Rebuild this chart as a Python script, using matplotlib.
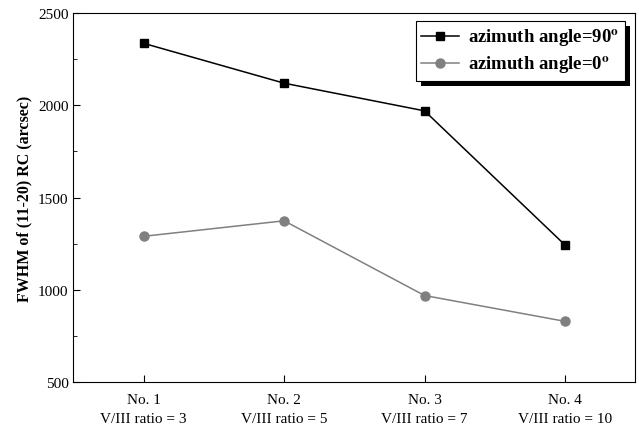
import matplotlib.pyplot as plt
import matplotlib.patches as patches
import numpy as np

plt.rcParams['font.family'] = 'Liberation Serif'
plt.rcParams['mathtext.fontset'] = 'stix'

samples = ['No. 1\nV/III ratio = 3', 'No. 2\nV/III ratio = 5',
           'No. 3\nV/III ratio = 7', 'No. 4\nV/III ratio = 10']
fwhm_90 = [2336, 2120, 1970, 1243]
fwhm_0 = [1290, 1374, 969, 829]

x = np.arange(1, len(samples) + 1)

fig = plt.figure(figsize=(6.39, 4.27), dpi=100)
ax = fig.add_axes([0.115, 0.103, 0.879, 0.864])

ax.plot(x, fwhm_90, color='black', marker='s', markersize=6, lw=1.1,
        label=r'azimuth angle=90$^{\mathbf{o}}$')
ax.plot(x, fwhm_0, color='#808080', marker='o', markersize=6.5, lw=1.1,
        label=r'azimuth angle=0$^{\mathbf{o}}$')

ax.set_xlim(0.5, 4.5)
ax.set_ylim(500, 2500)
ax.set_xticks(x)
ax.set_xticklabels(samples, fontsize=11, linespacing=1.6)
ax.set_yticks([500, 1000, 1500, 2000, 2500])
ax.set_yticks([750, 1250, 1750, 2250], minor=True)
ax.tick_params(axis='both', direction='in', labelsize=11, length=5)
ax.tick_params(axis='x', pad=8)
ax.tick_params(axis='y', which='minor', direction='in', length=3)
ax.set_ylabel('FWHM of (11-20) RC (arcsec)', fontsize=11.5, fontweight='bold')

leg = ax.legend(loc='upper right', bbox_to_anchor=(0.982, 0.978),
                borderaxespad=0, fancybox=False, edgecolor='black',
                framealpha=1, prop={'weight': 'bold', 'size': 13.5},
                handlelength=2.0, handletextpad=0.5, borderpad=0.3,
                labelspacing=0.3)
leg.get_frame().set_linewidth(0.8)

# solid black drop shadow behind legend
fig.canvas.draw()
bb = leg.get_window_extent()
shadow = patches.Rectangle((bb.x0 + 5, bb.y0 - 5), bb.width, bb.height,
                           transform=None, facecolor='black', edgecolor='none',
                           zorder=4.5)
ax.add_artist(shadow)

fig.savefig('out.png', dpi=100)
